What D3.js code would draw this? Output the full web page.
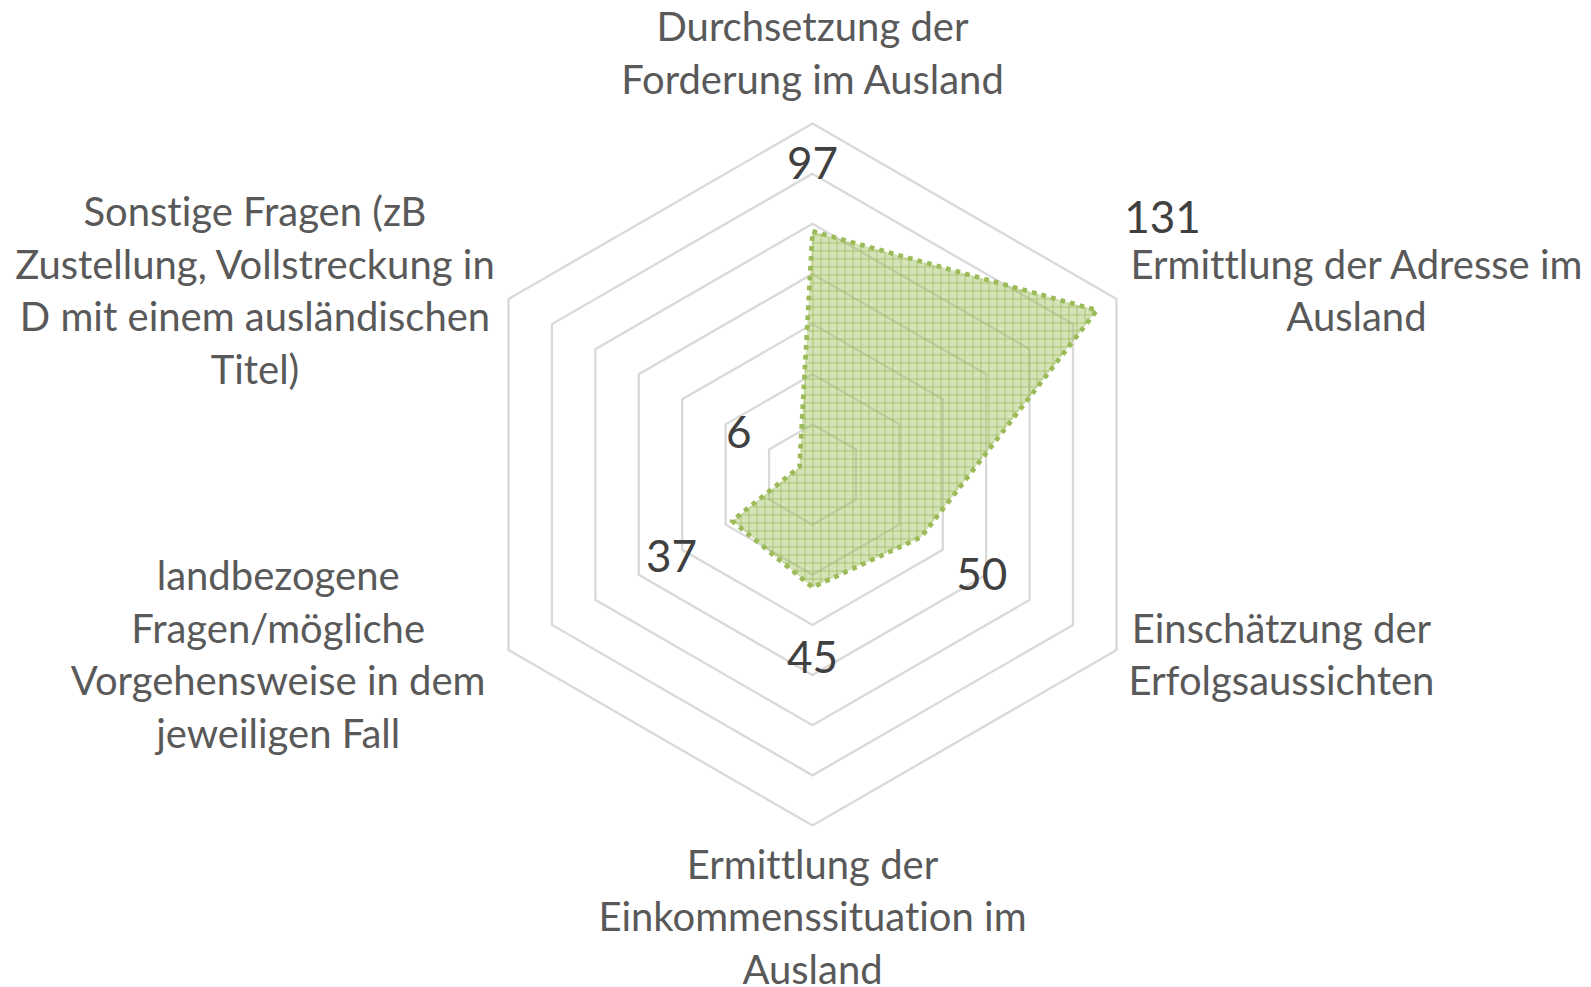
<!DOCTYPE html>
<html>
<head>
<meta charset="utf-8">
<script src="https://cdn.jsdelivr.net/npm/d3@7"></script>
<style>
    body { margin: 0; background: #fff; }
    svg { display: block; }
    text { font-variant-ligatures: none; font-feature-settings: "liga" 0, "clig" 0; }
</style>
</head>
<body>
<div id="radar"></div>
<script>
// chart data
const categories = [
    "Durchsetzung der Forderung im Ausland",
    "Ermittlung der Adresse im Ausland",
    "Einschätzung der Erfolgsaussichten",
    "Ermittlung der Einkommenssituation im Ausland",
    "landbezogene Fragen/mögliche Vorgehensweise in dem jeweiligen Fall",
    "Sonstige Fragen (zB Zustellung, Vollstreckung in D mit einem ausländischen Titel)"
];
// how Excel wrapped the category names
const categoryLines = [
    ["Durchsetzung der", "Forderung im Ausland"],
    ["Ermittlung der Adresse im", "Ausland"],
    ["Einschätzung der", "Erfolgsaussichten"],
    ["Ermittlung der", "Einkommenssituation im", "Ausland"],
    ["landbezogene", "Fragen/mögliche", "Vorgehensweise in dem", "jeweiligen Fall"],
    ["Sonstige Fragen (zB", "Zustellung, Vollstreckung in", "D mit einem ausländischen", "Titel)"]
];
const values = [97, 131, 50, 45, 37, 6];
const ringTicks = [20, 40, 60, 80, 100, 120, 140];

function main() {
    const width = 1591;
    const height = 987;
    const cx = 812.5;
    const cy = 474.5;
    const radius = 351;
    const lineHeight = 52.8;
    const FONT = "Lato, 'Open Sans', sans-serif";

    const svg = d3.select("#radar")
        .append("svg")
            .attr("width", width)
            .attr("height", height);

    const r = d3.scaleLinear()
        .domain([0, d3.max(ringTicks)])
        .range([0, radius]);

    const n = categories.length;
    const angle = i => i * 2 * Math.PI / n; // 0 = 12 o'clock, clockwise
    const px = (i, rad) => cx + rad * Math.sin(angle(i));
    const py = (i, rad) => cy - rad * Math.cos(angle(i));

    // pattern for the area: light green with a fine grid on top
    const pat = svg.append("defs")
        .append("pattern")
            .attr("id", "grid-fill")
            .attr("patternUnits", "userSpaceOnUse")
            .attr("width", 8)
            .attr("height", 8);
    pat.append("rect")
        .attr("width", 8)
        .attr("height", 8)
        .attr("fill", "#9bbb59")
        .attr("fill-opacity", 0.42);
    pat.append("path")
        .attr("d", "M0,0.5H8M0.5,0V8")
        .attr("stroke", "#9bbb59")
        .attr("stroke-width", 1)
        .attr("stroke-opacity", 0.75)
        .attr("fill", "none");

    const g = svg.append("g").attr("transform", `translate(${cx}, ${cy})`);

    const ring = d3.lineRadial()
        .angle((d, i) => angle(i))
        .curve(d3.curveLinearClosed);

    // hexagon rings
    g.selectAll(".ring")
        .data(ringTicks)
        .enter()
        .append("path")
            .attr("class", "ring")
            .attr("d", t => ring.radius(() => r(t))(d3.range(n)))
            .attr("fill", "none")
            .attr("stroke", "#d9d9d9")
            .attr("stroke-width", 2.3);

    // the data area
    g.append("path")
        .datum(values)
        .attr("d", d3.lineRadial()
            .angle((d, i) => angle(i))
            .radius(d => r(d))
            .curve(d3.curveLinearClosed))
        .attr("fill", "url(#grid-fill)")
        .attr("stroke", "#9bbb59")
        .attr("stroke-width", 4.7)
        .attr("stroke-dasharray", "4.7 5.2")
        .attr("stroke-linejoin", "round");

    // value labels, ~70px further out along each axis
    const digitHalf = 15.8;
    values.forEach((v, i) => {
        let lr = r(v) + 70;
        let x = px(i, lr);
        let y = py(i, lr);
        // past the outer ring Excel pushes the label up, out of the category text
        if (lr > radius) {
            x += 5;
            y -= 58;
        }
        svg.append("text")
            .attr("x", x)
            .attr("y", y + digitHalf + (i === 0 || i === 2 ? 2 : 0))
            .attr("text-anchor", "middle")
            .attr("font-family", FONT)
            .attr("font-size", 44)
            .attr("fill", "#404040")
            .text(v);
    });

    // category labels
    const sideGap = [0, 14, 12, 0, 23, 14];
    categoryLines.forEach((lines, i) => {
        const vx = px(i, radius);
        const vy = py(i, radius);
        const t = svg.append("text")
            .attr("text-anchor", "middle")
            .attr("font-family", FONT)
            .attr("font-size", 40)
            .attr("fill", "#595959");
        lines.forEach(l => t.append("tspan").text(l));
        const w = d3.max(t.selectAll("tspan").nodes(), nd => nd.getComputedTextLength());

        let x, firstBase;
        const s = Math.sin(angle(i));
        if (Math.abs(s) < 0.01) {
            x = vx;
            firstBase = vy < cy
                ? vy - 30 - (lines.length - 1) * lineHeight
                : vy + 53;
        } else {
            x = s > 0 ? vx + sideGap[i] + w / 2 : vx - sideGap[i] - w / 2;
            const meanBase = vy + (vy < cy ? 6 : 19);
            firstBase = meanBase - (lines.length - 1) / 2 * lineHeight;
        }
        t.selectAll("tspan")
            .attr("x", x)
            .attr("y", (d, k) => firstBase + k * lineHeight);
    });
}

main();
</script>
</body>
</html>
